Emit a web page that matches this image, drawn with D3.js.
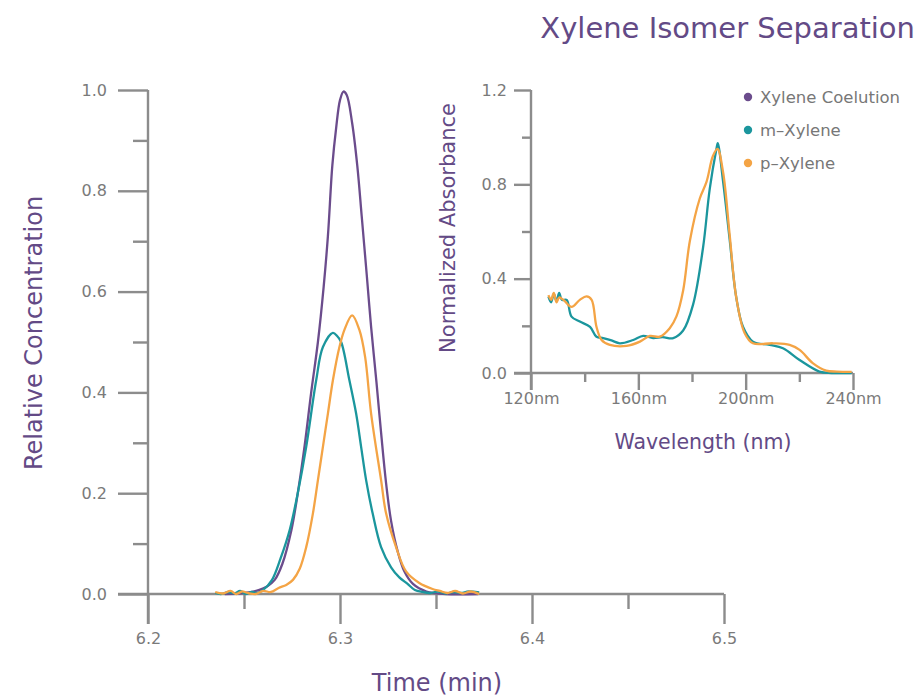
<!DOCTYPE html>
<html>
<head>
<meta charset="utf-8">
<script src="https://cdn.jsdelivr.net/npm/d3@7"></script>
<style>
  body { margin: 0; background: #fff; }
  svg text { font-family: "DejaVu Sans", sans-serif; }
</style>
</head>
<body>
<div id="chart"></div>
<script>
// chromatogram (time in min, relative concentration)
const coelutionTime = [6.240, 6.250, 6.258, 6.262, 6.266, 6.270, 6.2747, 6.278, 6.2816, 6.285, 6.2885, 6.2915, 6.2937, 6.296, 6.298, 6.300, 6.3018, 6.3035, 6.3063, 6.309, 6.3113, 6.314, 6.3162, 6.319, 6.3214, 6.324, 6.3266, 6.330, 6.3335, 6.338, 6.345, 6.355, 6.372];
const coelutionConc = [0.0, 0.002, 0.008, 0.015, 0.028, 0.06, 0.127, 0.20, 0.295, 0.40, 0.50, 0.61, 0.71, 0.85, 0.925, 0.98, 0.997, 0.99, 0.935, 0.85, 0.75, 0.63, 0.53, 0.42, 0.32, 0.22, 0.145, 0.085, 0.045, 0.02, 0.005, 0.0, 0.0];

const mTime = [6.235, 6.238, 6.242, 6.245, 6.248, 6.251, 6.254, 6.257, 6.260, 6.2646, 6.269, 6.2738, 6.278, 6.2824, 6.2876, 6.2911, 6.2963, 6.2985, 6.3006, 6.3049, 6.3084, 6.311, 6.3136, 6.317, 6.3214, 6.3266, 6.3309, 6.3352, 6.339, 6.343, 6.347, 6.351, 6.355, 6.359, 6.363, 6.367, 6.3725];
const mConc = [0.002, 0.0, 0.004, 0.001, 0.006, 0.0, 0.004, 0.002, 0.008, 0.028, 0.07, 0.127, 0.20, 0.292, 0.424, 0.49, 0.518, 0.512, 0.50, 0.424, 0.358, 0.292, 0.226, 0.16, 0.093, 0.053, 0.033, 0.02, 0.008, 0.004, 0.002, 0.005, 0.001, 0.004, 0.002, 0.005, 0.003];

const pTime = [6.235, 6.239, 6.243, 6.246, 6.249, 6.252, 6.256, 6.260, 6.264, 6.268, 6.272, 6.2755, 6.279, 6.2824, 6.2859, 6.2885, 6.2911, 6.2937, 6.2963, 6.2997, 6.3023, 6.3063, 6.3101, 6.3131, 6.3162, 6.3214, 6.324, 6.3292, 6.3344, 6.3413, 6.3482, 6.352, 6.356, 6.360, 6.364, 6.368, 6.3725];
const pConc = [0.004, 0.001, 0.006, 0.0, 0.005, 0.002, 0.0, 0.006, 0.004, 0.012, 0.018, 0.028, 0.05, 0.093, 0.16, 0.226, 0.292, 0.358, 0.424, 0.49, 0.524, 0.553, 0.524, 0.47, 0.358, 0.226, 0.16, 0.093, 0.045, 0.022, 0.01, 0.006, 0.002, 0.006, 0.001, 0.005, 0.0];

// UV spectra (wavelength in nm, normalized absorbance)
const mWave = [126.5, 127.5, 128.5, 129.5, 130.5, 131.5, 133.3, 135.1, 138.2, 142.0, 144.4, 146.9, 150.0, 153.1, 158.1, 161.8, 165.5, 169.0, 173.0, 176.7, 180.4, 184.1, 186.6, 189.1, 189.6, 191.6, 194.0, 196.5, 199.0, 202.7, 208.9, 213.9, 220.1, 227.5, 232.0, 239.5];
const mAbs = [0.324, 0.30, 0.335, 0.305, 0.34, 0.31, 0.31, 0.239, 0.218, 0.196, 0.154, 0.148, 0.138, 0.126, 0.14, 0.157, 0.148, 0.152, 0.148, 0.18, 0.29, 0.53, 0.78, 0.95, 0.975, 0.81, 0.57, 0.32, 0.196, 0.133, 0.119, 0.105, 0.055, 0.006, 0.0, 0.0];

const pWave = [126.5, 127.5, 128.5, 129.5, 130.5, 132.1, 135.1, 138.2, 140.7, 142.6, 144.4, 146.3, 149.4, 155.6, 160.6, 164.3, 168.0, 171.7, 174.2, 176.7, 179.2, 182.9, 185.4, 187.8, 189.5, 191.6, 194.0, 196.5, 199.6, 202.7, 210.2, 216.4, 220.1, 225.0, 230.0, 234.0, 239.5];
const pAbs = [0.33, 0.31, 0.34, 0.30, 0.32, 0.31, 0.28, 0.31, 0.325, 0.31, 0.196, 0.14, 0.119, 0.115, 0.133, 0.157, 0.154, 0.19, 0.24, 0.35, 0.56, 0.74, 0.81, 0.92, 0.95, 0.85, 0.59, 0.32, 0.17, 0.126, 0.126, 0.119, 0.098, 0.042, 0.01, 0.006, 0.005];

const seriesNames = ["Xylene Coelution", "m\u2013Xylene", "p\u2013Xylene"];
const seriesColors = ["#6b4c8c", "#1b969d", "#f4a445"];

const timeTicks = [6.2, 6.3, 6.4, 6.5];
const timeMinor = [6.25, 6.35, 6.45];
const concTicks = [0, 0.2, 0.4, 0.6, 0.8, 1.0];
const concMinor = [0.1, 0.3, 0.5, 0.7, 0.9];
const waveTicks = [120, 160, 200, 240];
const waveMinor = [140, 180, 220];
const absTicks = [0, 0.4, 0.8, 1.2];
const absMinor = [0.2, 0.6, 1.0];

const width = 918, height = 697;
const axisColor = "#8c8c8c";
const labelColor = "#7a7a7a";
const titleColor = "#634a86";

const svg = d3.select("#chart").append("svg")
    .attr("width", width)
    .attr("height", height);

// ---- main chart scales
const x = d3.scaleLinear().domain([6.2, 6.5]).range([148, 724]);
const y = d3.scaleLinear().domain([0, 1]).range([594, 90]);

// ---- inset scales
const xi = d3.scaleLinear().domain([120, 240]).range([531, 853]);
const yi = d3.scaleLinear().domain([0, 1.2]).range([373, 90]);

function styleAxis(g, fontSize) {
    g.select(".domain").remove();
    g.selectAll(".tick line").attr("stroke", axisColor).attr("stroke-width", 2.4);
    g.selectAll(".tick text").attr("fill", labelColor).style("font-size", fontSize + "px");
}

function drawAxes(xs, ys, xT, xM, yT, yM, opts) {
    const x0 = xs.range()[0], x1 = xs.range()[1];
    const y0 = ys.range()[0], y1 = ys.range()[1];

    // axis lines
    svg.append("line")
        .attr("x1", x0 - opts.major).attr("x2", x1)
        .attr("y1", y0).attr("y2", y0)
        .attr("stroke", axisColor).attr("stroke-width", 2.4);
    svg.append("line")
        .attr("x1", x0).attr("x2", x0)
        .attr("y1", y1).attr("y2", y0 + opts.major)
        .attr("stroke", axisColor).attr("stroke-width", 2.4);

    svg.append("g")
        .attr("transform", `translate(0,${y0})`)
        .call(d3.axisBottom(xs).tickValues(xT).tickSize(opts.major)
            .tickPadding(opts.xPad).tickFormat(opts.xFmt))
        .call(g => styleAxis(g, opts.fs));
    svg.append("g")
        .attr("transform", `translate(0,${y0})`)
        .call(d3.axisBottom(xs).tickValues(xM).tickSize(opts.minor).tickFormat(""))
        .call(g => styleAxis(g, opts.fs));
    svg.append("g")
        .attr("transform", `translate(${x0},0)`)
        .call(d3.axisLeft(ys).tickValues(yT).tickSize(opts.major)
            .tickPadding(opts.yPad).tickFormat(d3.format(".1f")))
        .call(g => styleAxis(g, opts.fs));
    svg.append("g")
        .attr("transform", `translate(${x0},0)`)
        .call(d3.axisLeft(ys).tickValues(yM).tickSize(opts.minor).tickFormat(""))
        .call(g => styleAxis(g, opts.fs));
}

drawAxes(x, y, timeTicks, timeMinor, concTicks, concMinor,
    { major: 30, minor: 15, xPad: 9, yPad: 11, fs: 16, xFmt: d3.format(".1f") });
drawAxes(xi, yi, waveTicks, waveMinor, absTicks, absMinor,
    { major: 17, minor: 9, xPad: 3, yPad: 7, fs: 16, xFmt: d => d + "nm" });

// ---- lines
const mainLine = d3.line().x(d => x(d[0])).y(d => y(d[1])).curve(d3.curveCatmullRom);
const insetLine = d3.line().x(d => xi(d[0])).y(d => yi(d[1])).curve(d3.curveCatmullRom);

const chromSeries = [
    d3.zip(coelutionTime, coelutionConc),
    d3.zip(mTime, mConc),
    d3.zip(pTime, pConc)
];
chromSeries.forEach((pts, i) => {
    svg.append("path")
        .datum(pts)
        .attr("fill", "none")
        .attr("stroke", seriesColors[i])
        .attr("stroke-width", 2.3)
        .attr("d", mainLine);
});

const specSeries = [d3.zip(mWave, mAbs), d3.zip(pWave, pAbs)];
specSeries.forEach((pts, i) => {
    svg.append("path")
        .datum(pts)
        .attr("fill", "none")
        .attr("stroke", seriesColors[i + 1])
        .attr("stroke-width", 2.3)
        .attr("d", insetLine);
});

// ---- titles
svg.append("text")
    .attr("x", 915).attr("y", 38)
    .attr("text-anchor", "end")
    .attr("fill", titleColor)
    .style("font-size", "29px")
    .text("Xylene Isomer Separation");

svg.append("text")
    .attr("x", 437).attr("y", 691)
    .attr("text-anchor", "middle")
    .attr("fill", titleColor)
    .style("font-size", "24px")
    .text("Time (min)");

svg.append("text")
    .attr("transform", "translate(42,333) rotate(-90)")
    .attr("text-anchor", "middle")
    .attr("fill", titleColor)
    .style("font-size", "24px")
    .text("Relative Concentration");

svg.append("text")
    .attr("x", 703).attr("y", 449)
    .attr("text-anchor", "middle")
    .attr("fill", titleColor)
    .style("font-size", "20.5px")
    .text("Wavelength (nm)");

svg.append("text")
    .attr("transform", "translate(455,228) rotate(-90)")
    .attr("text-anchor", "middle")
    .attr("fill", titleColor)
    .style("font-size", "21px")
    .text("Normalized Absorbance");

// ---- legend
const legend = svg.append("g").attr("transform", "translate(748,97)");
seriesNames.forEach((name, i) => {
    const row = legend.append("g").attr("transform", `translate(0,${i * 33})`);
    row.append("circle").attr("r", 4.2).attr("fill", seriesColors[i]);
    row.append("text")
        .attr("x", 12).attr("dy", "0.35em")
        .attr("fill", "#777")
        .style("font-size", "16.5px")
        .text(name);
});
</script>
</body>
</html>
